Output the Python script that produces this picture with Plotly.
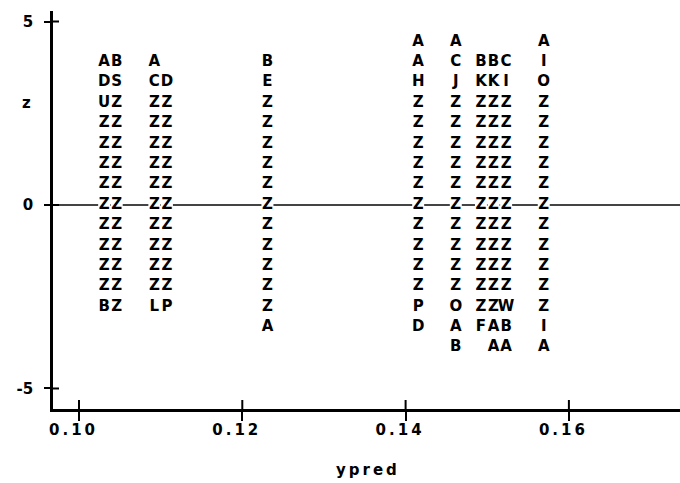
import plotly.graph_objects as go

# ypred positions of the printed columns (SAS line-printer cells)
ypred_cols = [0.10308, 0.10462, 0.10923, 0.11077, 0.12308, 0.14154,
              0.14615, 0.14923, 0.15077, 0.15231, 0.15692]
# z levels of the printed rows, top to bottom
z_levels = [4.444, 3.889, 3.333, 2.778, 2.222, 1.667, 1.111, 0.556, 0.0,
            -0.556, -1.111, -1.667, -2.222, -2.778, -3.333, -3.889]
# plotting symbols in each column, one char per z level (space = empty)
col_symbols = [
    " ADUZZZZZZZZZB  ",
    " BSZZZZZZZZZZZ  ",
    " ACZZZZZZZZZZL  ",
    "  DZZZZZZZZZZP  ",
    " BEZZZZZZZZZZZA ",
    "AAHZZZZZZZZZZPD ",
    "ACJZZZZZZZZZZOAB",
    " BKZZZZZZZZZZZF ",
    " BKZZZZZZZZZZZAA",
    " CIZZZZZZZZZZWBA",
    "AIOZZZZZZZZZZZIA",
]

x_ticks = [0.10, 0.12, 0.14, 0.16]
x_ticktext = ["0\u2009.\u20091\u20090", "0\u2009.\u20091\u20092",
              "0\u2009.\u20091\u20094", "0\u2009.\u20091\u20096"]
y_ticks = [-5, 0, 5]
y_ticktext = ["-5", "0", "5"]

FONT = "DejaVu Sans"

xs, ys, ts = [], [], []
for xv, s in zip(ypred_cols, col_symbols):
    for zv, ch in zip(z_levels, s):
        if ch != " ":
            xs.append(xv)
            ys.append(zv)
            ts.append(ch)

fig = go.Figure()
fig.add_trace(go.Scatter(
    x=xs, y=ys, text=ts, mode="markers+text",
    marker=dict(symbol="square", size=12, color="white", line=dict(width=0)),
    textposition="middle center",
    textfont=dict(family=FONT, size=15, color="black", weight="bold"),
    hoverinfo="skip", showlegend=False,
))

shapes = [dict(type="line", xref="paper", yref="y", x0=0, x1=1, y0=0, y1=0,
               line=dict(color="#444", width=2), layer="below")]
for t in x_ticks:
    shapes.append(dict(type="line", xref="x", yref="paper", ysizemode="pixel",
                       yanchor=0, x0=t, x1=t, y0=0, y1=9,
                       line=dict(color="black", width=2)))
for t in y_ticks:
    shapes.append(dict(type="line", yref="y", xref="paper", xsizemode="pixel",
                       xanchor=0, y0=t, y1=t, x0=0, x1=6,
                       line=dict(color="black", width=2)))

fig.update_layout(
    width=680, height=483,
    margin=dict(l=53, r=0, t=11, b=74),
    paper_bgcolor="white", plot_bgcolor="white",
    font=dict(family=FONT, size=15, color="black", weight="bold"),
    shapes=shapes,
    xaxis=dict(range=[0.096816, 0.173607], showgrid=False, zeroline=False,
               automargin=False,
               showline=True, linecolor="black", linewidth=2.5,
               ticks="outside", ticklen=9, tickwidth=2, tickcolor="black",
               tickvals=x_ticks, ticktext=x_ticktext,
               ticklabelstandoff=-4, ticklabelshift=-7,
               tickfont=dict(family=FONT, size=15, weight="bold")),
    yaxis=dict(range=[-5.559, 5.286], showgrid=False, zeroline=False,
               automargin=False,
               showline=True, linecolor="black", linewidth=2.5,
               ticks="outside", ticklen=6, tickwidth=2, tickcolor="black",
               tickvals=y_ticks, ticktext=y_ticktext, ticklabelstandoff=8,
               tickfont=dict(family=FONT, size=15, weight="bold")),
    annotations=[
        dict(text="z", xref="paper", yref="y", x=-0.0415, y=2.778,
             showarrow=False, xanchor="center", yanchor="middle",
             font=dict(family=FONT, size=15, weight="bold")),
        dict(text="y\u2009p\u2009r\u2009e\u2009d", xref="paper", yref="paper",
             x=0.5, y=0, yshift=-61, showarrow=False,
             xanchor="center", yanchor="middle",
             font=dict(family=FONT, size=15, weight="bold")),
    ],
)

fig.write_html("out.html", config={"displayModeBar": False},
               post_script="document.body.style.margin='0';"
                           "document.body.style.overflow='hidden';")
